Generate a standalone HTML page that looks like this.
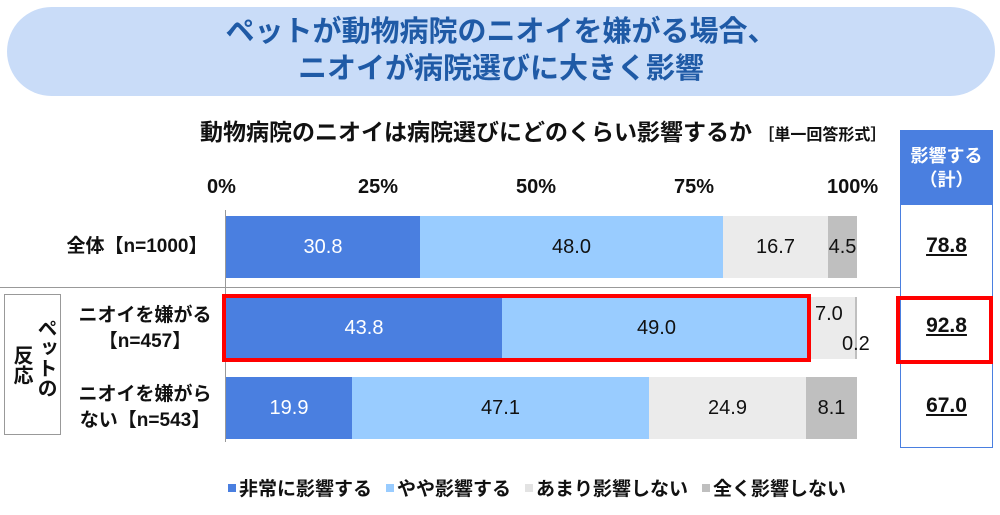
<!DOCTYPE html>
<html><head><meta charset="utf-8"><style>
*{margin:0;padding:0;box-sizing:border-box}
body{width:1000px;height:515px;background:#fff;position:relative;overflow:hidden;font-family:"Liberation Sans","Noto Sans CJK JP",sans-serif;color:#111}
.a{position:absolute}
.banner{left:7px;top:7px;width:988px;height:89px;background:#c9dcf8;border-radius:45px;text-align:center;color:#1f5aa6;font-weight:bold;font-size:29px;line-height:37px;padding-top:7px}
.seg{position:absolute;height:62px;display:flex;align-items:center;justify-content:center;font-size:20px}
.c1{background:#4a7fe0;color:#fff}.c2{background:#99ccff}.c3{background:#ebebeb}.c4{background:#bfbfbf}
.tick{font-size:20px;top:176px;font-weight:bold}
.lab{font-size:19px;font-weight:bold;text-align:center;width:170px;line-height:26px;white-space:nowrap}
.val{left:900px;width:93px;text-align:center;font-size:21px;font-weight:bold;text-decoration:underline}
.legrow{left:228px;top:474px;font-size:19px;font-weight:bold;display:flex;align-items:center;white-space:nowrap}
.legrow span.m{display:inline-block;width:8px;height:8px;margin-right:3px}
.legrow span.g{display:inline-block;width:14px}
.vt{writing-mode:vertical-rl;font-size:20px;font-weight:bold;line-height:24px}
</style></head><body>
<div class="a banner">ペットが動物病院のニオイを嫌がる場合、<br>ニオイが病院選びに大きく影響</div>
<div class="a" style="left:200px;top:113px;font-size:23px;font-weight:bold;white-space:nowrap">動物病院のニオイは病院選びにどのくらい影響するか <span style="font-size:16px">［単一回答形式］</span></div>
<div class="a tick" style="left:207px">0%</div>
<div class="a tick" style="left:358px">25%</div>
<div class="a tick" style="left:516px">50%</div>
<div class="a tick" style="left:674px">75%</div>
<div class="a tick" style="left:827px">100%</div>
<div class="a" style="left:225px;top:210px;width:1px;height:232px;background:#999"></div>
<div class="a" style="left:0;top:287px;width:900px;height:1px;background:#999"></div>
<div class="seg c1" style="left:226px;top:216px;width:194px">30.8</div>
<div class="seg c2" style="left:420px;top:216px;width:303px">48.0</div>
<div class="seg c3" style="left:723px;top:216px;width:105px">16.7</div>
<div class="seg c4" style="left:828px;top:216px;width:29px">4.5</div>
<div class="seg c1" style="left:226px;top:297px;width:276px">43.8</div>
<div class="seg c2" style="left:502px;top:297px;width:309px">49.0</div>
<div class="seg c3" style="left:811px;top:297px;width:44px"></div>
<div class="seg c4" style="left:855px;top:297px;width:2px"></div>
<div class="a" style="left:815px;top:303px;font-size:20px">7.0</div>
<div class="a" style="left:842px;top:333px;font-size:20px">0.2</div>
<div class="a" style="left:222px;top:294px;width:589px;height:68px;border:4px solid #f00"></div>
<div class="seg c1" style="left:226px;top:377px;width:126px">19.9</div>
<div class="seg c2" style="left:352px;top:377px;width:297px">47.1</div>
<div class="seg c3" style="left:649px;top:377px;width:157px">24.9</div>
<div class="seg c4" style="left:806px;top:377px;width:51px">8.1</div>
<div class="a lab" style="left:52px;top:234px">全体【n=1000】</div>
<div class="a lab" style="left:60px;top:303px">ニオイを嫌がる<br>【n=457】</div>
<div class="a lab" style="left:60px;top:382px">ニオイを嫌がら<br>ない【n=543】</div>
<div class="a" style="left:4px;top:294px;width:57px;height:141px;border:1px solid #999"></div>
<div class="a vt" style="left:33px;top:318px">ペットの</div>
<div class="a vt" style="left:9px;top:345px">反応</div>
<div class="a" style="left:900px;top:130px;width:93px;height:318px;border:1px solid #4a7fe0"></div>
<div class="a" style="left:900px;top:130px;width:93px;height:75px;background:#4a7fe0;color:#fff;font-size:18px;font-weight:bold;text-align:center;line-height:24px;padding-top:14px">影響する<br>（計）</div>
<div class="a val" style="top:234px">78.8</div>
<div class="a val" style="top:314px">92.8</div>
<div class="a val" style="top:394px">67.0</div>
<div class="a" style="left:896px;top:296px;width:97px;height:68px;border:4px solid #f00"></div>
<div class="a legrow"><span class="m" style="background:#4a7fe0"></span>非常に影響する<span class="g"></span><span class="m" style="background:#99ccff"></span>やや影響する<span class="g"></span><span class="m" style="background:#e3e3e3"></span>あまり影響しない<span class="g"></span><span class="m" style="background:#bfbfbf"></span>全く影響しない</div>
</body></html>
